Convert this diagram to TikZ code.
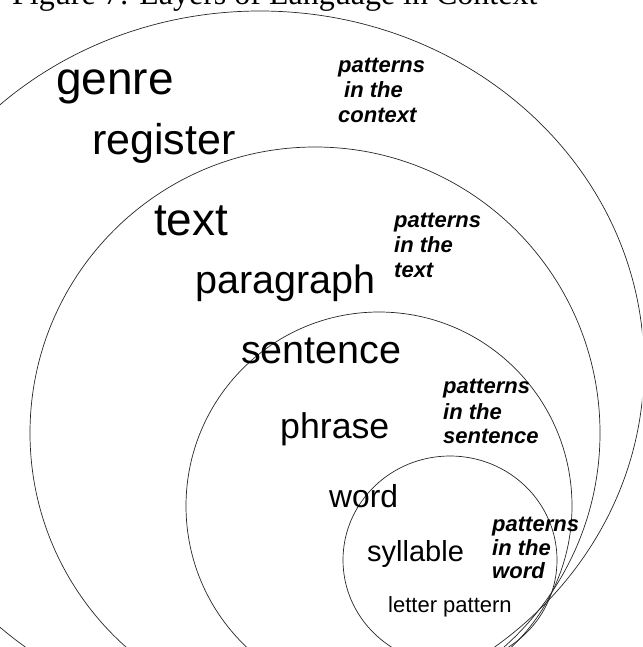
\documentclass[tikz,border=0pt]{standalone}
\usepackage{fontspec}
\setmainfont{Liberation Sans}
\newfontfamily\titlefont{Liberation Serif}
\tikzset{
  ring/.style={draw=black!85, line width=0.7pt},
  layer/.style={anchor=base west, inner sep=0pt, text=black},
  pat/.style={anchor=base west, inner sep=0pt, text=black, font=\fontsize{22}{25}\selectfont\bfseries\itshape},
}
\begin{document}
\begin{tikzpicture}[x=1pt,y=-1pt]
\useasboundingbox (0,0) rectangle (642,647);
\clip (0,0) rectangle (642,647);
% title (cut off at top)
\node[layer, font=\titlefont\fontsize{32}{36}\selectfont] (title) at (12,5) {Figure 7: Layers of Language in Context};
% rings
\draw[ring] (260,366) ellipse [x radius=384pt, y radius=355pt];
\draw[ring] (315,433) ellipse [x radius=285pt, y radius=286pt];
\draw[ring] (379,506) ellipse [x radius=193pt, y radius=194pt];
\draw[ring] (450,560) ellipse [x radius=107pt, y radius=104pt];
% layer labels
\node[layer, font=\fontsize{46}{50}\selectfont] (genre) at (56,95) {genre};
\node[layer, font=\fontsize{43}{48}\selectfont] (register) at (92,154) {register};
\node[layer, font=\fontsize{46}{50}\selectfont] (text) at (154,235) {text};
\node[layer, font=\fontsize{39.5}{44}\selectfont] (paragraph) at (195,293) {paragraph};
\node[layer, font=\fontsize{39.5}{44}\selectfont] (sentence) at (241,363) {sentence};
\node[layer, font=\fontsize{35.7}{40}\selectfont] (phrase) at (280,438) {phrase};
\node[layer, font=\fontsize{31.8}{36}\selectfont] (word) at (329,507) {word};
\node[layer, font=\fontsize{29}{33}\selectfont] (syllable) at (367,561) {syllable};
\node[layer, font=\fontsize{22}{26}\selectfont] (letter) at (388,612) {letter pattern};
% pattern labels
\node[pat] (c1) at (338,73) {patterns};
\node[pat] (c2) at (338,98) {\hspace{6pt}in the};
\node[pat] (c3) at (338,123) {context};
\node[pat] (t1) at (394,227) {patterns};
\node[pat] (t2) at (394,252) {in the};
\node[pat] (t3) at (394,277) {text};
\node[pat] (s1) at (443,393) {patterns};
\node[pat] (s2) at (443,419) {in the};
\node[pat] (s3) at (443,443) {sentence};
\node[pat] (w1) at (492,531) {patterns};
\node[pat] (w2) at (492,555) {in the};
\node[pat] (w3) at (492,578) {word};
\end{tikzpicture}
\end{document}
